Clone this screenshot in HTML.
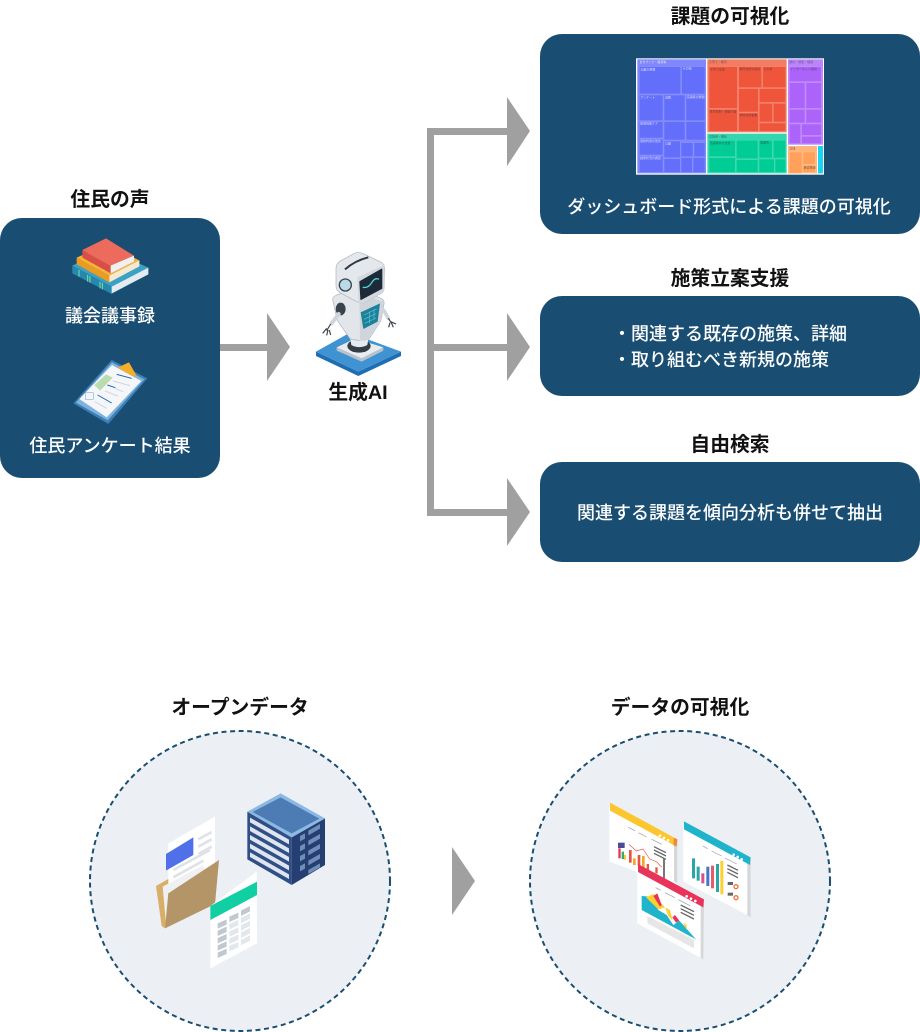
<!DOCTYPE html>
<html lang="ja"><head><meta charset="utf-8"><title>図</title>
<style>
html,body{margin:0;padding:0;background:#fff}
svg{display:block}
text{font-family:"Liberation Sans","Noto Sans CJK JP",sans-serif}
.t{font-size:19.8px;font-weight:700;fill:#111;text-anchor:middle}
.b{font-size:18px;font-weight:500;fill:#fff}
.m{text-anchor:middle}
.tm{font-size:9px;fill:#fff;opacity:.75}
.td{font-size:9px;fill:#333;opacity:.65}
</style></head><body>
<svg width="920" height="1032" viewBox="0 0 920 1032" xmlns="http://www.w3.org/2000/svg">
<g fill="#194e72">
<rect x="0" y="218" width="220" height="260" rx="22"/>
<rect x="540" y="34" width="380" height="200" rx="22"/>
<rect x="540" y="296" width="380" height="100" rx="22"/>
<rect x="540" y="462" width="380" height="100" rx="22"/>
</g>
<g fill="#a0a0a0">
<rect x="220" y="344" width="48" height="7"/>
<polygon points="267,313 290,347 267,381"/>
<rect x="427" y="128" width="7" height="388"/>
<rect x="427" y="128" width="81" height="7"/>
<rect x="427" y="344" width="81" height="7"/>
<rect x="427" y="509" width="81" height="7"/>
<polygon points="507,97 530,131 507,166"/>
<polygon points="507,313 530,347 507,381"/>
<polygon points="507,478 530,512 507,546"/>
<polygon points="452,847 475,881 452,915"/>
</g>
<g fill="#eceff3" stroke="#194e72" stroke-width="2" stroke-dasharray="5 3.6">
<circle cx="240" cy="881" r="150"/>
<circle cx="680" cy="881" r="150"/>
</g>

<text class="t" x="110" y="206">住民の声</text>
<text class="t" x="730" y="23">課題の可視化</text>
<text class="t" x="730" y="285">施策立案支援</text>
<text class="t" x="730" y="451">自由検索</text>
<text class="t" x="358" y="399">生成AI</text>
<text class="t" x="240" y="714">オープンデータ</text>
<text class="t" x="680" y="714">データの可視化</text>
<text class="b m" x="110" y="322">議会議事録</text>
<text class="b m" x="110" y="452">住民アンケート結果</text>
<text class="b m" x="729" y="213">ダッシュボード形式による課題の可視化</text>
<text class="b" x="613" y="340">・関連する既存の施策、詳細</text>
<text class="b" x="613" y="366">・取り組むべき新規の施策</text>
<text class="b m" x="730" y="519">関連する課題を傾向分析も併せて抽出</text>

<!-- treemap -->
<g transform="translate(620,50) scale(.33333)">
<rect x="48" y="25" width="564" height="349" fill="#fff"/>
<rect x="52" y="28" width="206" height="342" fill="#7f87fb"/>
<rect x="262" y="28" width="238" height="219" fill="#f47c63"/>
<rect x="262" y="251" width="238" height="119" fill="#33d6ae"/>
<rect x="504" y="28" width="105" height="256" fill="#bb84fb"/>
<rect x="504" y="288" width="87" height="82" fill="#ffb47c"/>
<rect x="594" y="288" width="15" height="82" fill="#19d3f3"/>
<g fill="#636efa" stroke="#8e95fb" stroke-width="1.5">
<rect x="58" y="50" width="124" height="82"/><rect x="185" y="50" width="70" height="82"/>
<rect x="58" y="135" width="71" height="77"/><rect x="132" y="135" width="63" height="77"/><rect x="198" y="135" width="57" height="77"/>
<rect x="58" y="215" width="71" height="49"/><rect x="132" y="215" width="63" height="55"/><rect x="198" y="215" width="57" height="55"/>
<rect x="58" y="267" width="71" height="48"/><rect x="132" y="273" width="49" height="50"/><rect x="183" y="278" width="36" height="42"/><rect x="222" y="278" width="33" height="42"/>
<rect x="58" y="318" width="71" height="49"/><rect x="132" y="326" width="49" height="41"/><rect x="183" y="323" width="34" height="44"/><rect x="219" y="323" width="36" height="44"/>
</g>
<g fill="#ef553b" stroke="#f58a75" stroke-width="1.5">
<rect x="267" y="50" width="85" height="125"/><rect x="267" y="178" width="85" height="66"/>
<rect x="356" y="50" width="69" height="63"/><rect x="428" y="50" width="69" height="63"/>
<rect x="356" y="116" width="59" height="70"/><rect x="418" y="116" width="79" height="41"/>
<rect x="356" y="189" width="59" height="55"/><rect x="418" y="160" width="39" height="56"/><rect x="460" y="160" width="37" height="56"/><rect x="418" y="219" width="79" height="25"/>
</g>
<g fill="#00cc96" stroke="#4cdcb6" stroke-width="1.5">
<rect x="267" y="271" width="79" height="49"/><rect x="267" y="323" width="79" height="44"/>
<rect x="349" y="271" width="65" height="55"/><rect x="349" y="329" width="65" height="38"/>
<rect x="417" y="271" width="40" height="53"/><rect x="460" y="271" width="37" height="53"/>
<rect x="417" y="327" width="46" height="40"/><rect x="465" y="327" width="32" height="40"/>
</g>
<g fill="#ab63fa" stroke="#c795fb" stroke-width="1.5">
<rect x="508" y="50" width="96" height="45"/><rect x="508" y="98" width="47" height="77"/><rect x="558" y="98" width="46" height="77"/>
<rect x="508" y="178" width="47" height="41"/><rect x="558" y="178" width="46" height="41"/>
<rect x="508" y="222" width="34" height="59"/><rect x="545" y="222" width="59" height="34"/><rect x="545" y="259" width="59" height="22"/>
</g>
<g fill="#ffa15a" stroke="#ffc08f" stroke-width="1.5">
<rect x="508" y="306" width="38" height="64"/><rect x="549" y="306" width="37" height="37"/><rect x="549" y="346" width="37" height="21"/>
</g>
<text class="tm" x="58" y="39">まちづくり・騒音等</text>
<text class="tm" x="61" y="61">公園の整備</text>
<text class="tm" x="188" y="59">その他</text>
<text class="tm" x="61" y="146">アンケート</text>
<text class="tm" x="135" y="146">道路</text>
<text class="tm" x="200" y="144">高齢者の移動</text>
<text class="tm" x="60" y="223">地域包括ケア</text>
<text class="tm" x="60" y="276">通勤利用の改善</text>
<text class="tm" x="135" y="284">公園</text>
<text class="tm" x="60" y="327">健康状況の調査</text>
<text class="td" x="267" y="39">子育て・教育</text>
<text class="td" x="270" y="61">子育て支援</text>
<text class="td" x="358" y="60">教育支援の検討</text>
<text class="td" x="430" y="60">その他</text>
<text class="td" x="269" y="187">教育体制・福祉内容</text>
<text class="td" x="358" y="198">学校支援事業</text>
<text class="td" x="267" y="263">高齢者・福祉</text>
<text class="td" x="269" y="282">高齢者向け支援</text>
<text class="td" x="420" y="281">事業所</text>
<text class="td" x="508" y="39">防災・防犯・環境</text>
<text class="td" x="510" y="60">インターネット環境</text>
<text class="td" x="508" y="299">交通</text>
<text class="td" x="551" y="356">鉄道路線</text>
</g>

<!-- books + clipboard -->
<g transform="translate(50,225) scale(.33333)">
<polygon points="67,122 67,145 185,207 295,148 295,128 185,185" fill="#2589ad"/>
<polygon points="67,122 170,72 295,128 185,185" fill="#3aa2c6"/>
<polygon points="185,185 295,128 295,148 185,205" fill="#e4eaee"/>
<g stroke="#7fe0a0" stroke-width="3" fill="none"><path d="M87 135v20M113 150v20M120 153v20M150 170v20M157 173v20"/></g>
<polygon points="80,98 80,118 178,172 268,124 268,106 178,152" fill="#eb9a22"/>
<polygon points="80,98 170,58 268,106 178,152" fill="#f7b334"/>
<polygon points="178,152 268,106 268,124 178,172" fill="#f4e9d3"/>
<polygon points="97,75 97,98 182,145 252,110 252,92 182,122" fill="#d84f47"/>
<polygon points="97,75 168,40 252,92 182,122" fill="#ec6b5d"/>
<polygon points="182,122 252,92 252,110 182,145" fill="#eef0f2"/>
<polygon points="70,535 185,405 292,460 175,597" fill="#3a7fb8"/>
<polygon points="78,533 186,412 283,463 173,586" fill="#7fb3de"/>
<polygon points="88,522 186,420 274,468 170,577" fill="#f4f6f9"/>
<polygon points="203,428 237,412 262,456 245,452" fill="#f4ae2c"/>
<polygon points="133,480 168,448 188,458 150,497" fill="#b9dcae"/>
<g stroke="#1c6aa8" stroke-width="3" fill="none"><path d="M200 448l45 12M172 480l24 8M143 510l42 24"/></g>
<g stroke="#cfd6dc" stroke-width="3" fill="none"><path d="M190 468l50 14M165 498l40 16M135 530l35 20M195 490l24 10"/></g>
<rect x="106" y="503" width="24" height="20" fill="none" stroke="#8db6d6" stroke-width="2"/>
</g>

<!-- robot -->
<g transform="translate(300,240) scale(.33333)">
<polygon points="48,335 48,348 175,408 303,348 303,335 175,395" fill="#1f6db2"/>
<polygon points="48,335 150,278 303,335 175,395" fill="#3f93d2"/>
<polygon points="110,322 110,332 185,365 250,332 250,322 185,355" fill="#b9c2cb"/>
<polygon points="110,322 165,296 250,322 185,355" fill="#e8ecef"/>
<ellipse cx="177" cy="324" rx="37" ry="22" fill="#e9edf0"/>
<ellipse cx="177" cy="318" rx="35" ry="20" fill="#343c45"/>
<path d="M148 280H208L202 315Q177 328 154 315Z" fill="#e6eaee"/>
<path d="M98 178Q98 170 110 165L165 148Q175 146 185 150L245 176Q254 182 252 192L243 242 208 296Q180 306 150 296L112 242Z" fill="#e2e6ea" stroke="#aab2ba" stroke-width="2"/>
<path d="M178 158L252 186 243 242 208 296Q195 302 180 302Z" fill="#cfd5db"/>
<polygon points="182,217 240,190 233,245 190,267" fill="#1f8099"/>
<g stroke="#5dc6d8" stroke-width="2" fill="none"><path d="M192 225l38-18M192 238l36-17M194 250l34-16M208 215v35M222 208v30"/></g>
<ellipse cx="122" cy="207" rx="15" ry="19" fill="#3a424b"/>
<path d="M116 222L95 250" stroke="#cfd5da" stroke-width="12" stroke-linecap="round"/>
<path d="M92 252L80 272M80 265L68 280M84 270L80 286M88 270L92 285" stroke="#39424c" stroke-width="3.5" fill="none"/>
<path d="M252 212L265 235" stroke="#cfd5da" stroke-width="11" stroke-linecap="round"/>
<path d="M265 235L275 250M272 245L288 252M274 248L280 262M270 248L266 262" stroke="#39424c" stroke-width="3.5" fill="none"/>
<path d="M108 85Q108 70 123 62L163 40Q175 35 190 41L240 65Q254 72 254 85L252 145Q252 156 240 162L196 187Q185 192 172 186L120 158Q108 150 108 138Z" fill="#e4e8ec" stroke="#aab2ba" stroke-width="2"/>
<path d="M172 112L254 74 252 145Q252 156 240 162L196 187Q185 192 175 188Z" fill="#d3d9df"/>
<path d="M135 88Q165 62 205 52" stroke="#2f363e" stroke-width="6" fill="none"/>
<path d="M180 125L245 88V145L183 178Z" fill="#1d2b39" stroke="#1d2b39" stroke-width="4" stroke-linejoin="round"/>
<path d="M188 142Q205 145 215 128T237 118" stroke="#4fd5de" stroke-width="4" fill="none"/>
<circle cx="136" cy="135" r="18" fill="#b9dbe6" stroke="#39424c" stroke-width="4"/>
</g>

<!-- folder / server / table -->
<g transform="translate(140,780) scale(.33333)">
<polygon points="322,95 455,172 455,315 322,238" fill="#2f4f86"/>
<polygon points="455,172 555,115 555,255 455,315" fill="#263f73"/>
<polygon points="322,95 422,40 555,115 455,172" fill="#8cb9e4"/>
<polygon points="338,96 422,52 538,116 455,160" fill="#4d7bb3"/>
<g fill="#dfe5ee">
<polygon points="330,113 447,179 447,193 330,127"/>
<polygon points="330,139 447,205 447,219 330,153"/>
<polygon points="330,165 447,231 447,245 330,179"/>
<polygon points="330,191 447,257 447,271 330,205"/>
<polygon points="330,217 447,283 447,297 330,231"/>
</g>
<g fill="#6f8fb8">
<polygon points="505,152 540,132 540,146 505,166"/>
<polygon points="505,182 540,162 540,176 505,196"/>
<polygon points="505,212 540,192 540,206 505,226"/>
<polygon points="505,242 540,222 540,236 505,256"/>
<polygon points="505,270 540,250 540,262 505,282"/>
</g>
<g fill="#6f8fb8">
<polygon points="480,168 495,160 495,176 480,184"/>
<polygon points="480,198 495,190 495,206 480,214"/>
<polygon points="480,228 495,220 495,236 480,244"/>
<polygon points="480,258 495,250 495,266 480,274"/>
</g>
<polygon points="48,318 88,295 92,330 75,445 65,438" fill="#d9ae69"/>
<polygon points="85,190 225,110 225,250 85,330" fill="#fff"/>
<polygon points="78,222 160,172 160,225 78,272" fill="#4f70e8"/>
<g stroke="#dfe3e7" stroke-width="8"><path d="M175 178l40-22M175 200l40-22M175 222l40-22M100 270l110-60M100 292l90-50"/></g>
<polygon points="68,320 190,255 195,272 85,340 78,432" fill="#eef0f2"/>
<polygon points="85,340 237,240 225,372 75,445" fill="#b39568"/>
<polygon points="211,378 350,275 351,490 211,565" fill="#fff"/>
<polygon points="211,378 351,305 351,345 211,420" fill="#0fcfa3"/>
<g fill="#bfc9cf">
<polygon points="233,430 260,418 260,434 233,446"/>
<polygon points="233,452 260,440 260,456 233,468"/>
<polygon points="233,474 260,462 260,478 233,490"/>
<polygon points="233,496 260,484 260,500 233,512"/>
<polygon points="233,518 260,506 260,522 233,534"/>
<polygon points="268,410 295,398 295,414 268,426"/>
<polygon points="303,392 330,378 330,394 303,408"/>
</g>
<g fill="#e1e7eb">
<polygon points="268,432 295,420 295,436 268,448"/>
<polygon points="268,454 295,442 295,458 268,470"/>
<polygon points="268,476 295,464 295,480 268,492"/>
<polygon points="268,498 295,486 295,502 268,514"/>
<polygon points="303,414 330,400 330,416 303,430"/>
<polygon points="303,436 330,422 330,438 303,452"/>
<polygon points="303,458 330,444 330,460 303,474"/>
<polygon points="303,480 330,466 330,482 303,496"/>
</g>
</g>

<!-- dashboards -->
<g transform="translate(590,790) scale(.33333)">
<polygon points="58,50 262,155 262,290 58,215" fill="#fff"/>
<polygon points="252,160 262,155 262,280 252,275" fill="#d5d7d9"/>
<polygon points="60,38 262,148 260,170 60,62" fill="#fdc52e"/>
<polygon points="252,143 262,148 260,170 250,165" fill="#f0883a"/>
<g fill="#fff"><circle cx="210" cy="137" r="4"/><circle cx="222" cy="144" r="4"/><circle cx="234" cy="151" r="4"/></g>
<g stroke="#666" stroke-width="4"><path d="M192 170l36 18M192 180l36 18M192 190l36 18"/></g>
<g stroke="#999" stroke-width="2"><path d="M115 112l20 10M145 128l25 13M185 148l30 15"/></g>
<rect x="84" y="158" width="20" height="16" fill="#4a4a9a"/>
<rect x="85" y="175" width="7" height="30" fill="#e8335a"/><rect x="95" y="185" width="7" height="22" fill="#27b36a"/><rect x="102" y="195" width="6" height="14" fill="#fdc52e"/>
<rect x="117" y="180" width="8" height="38" fill="#e8543f"/><rect x="129" y="205" width="8" height="20" fill="#f5a623"/><rect x="143" y="195" width="8" height="32" fill="#e8543f"/><rect x="156" y="198" width="8" height="35" fill="#f5a623"/>
<rect x="170" y="222" width="7" height="20" fill="#e8543f"/><rect x="196" y="232" width="7" height="18" fill="#e8543f"/><rect x="219" y="205" width="6" height="60" fill="#777"/>
<path d="M117 163l22 20 20-6 20 30 20 8 16 16" stroke="#e8543f" stroke-width="2" fill="none"/>
<polygon points="280,103 482,208 482,380 280,275" fill="#fff"/>
<polygon points="472,215 482,208 482,382 472,376" fill="#d5d7d9"/>
<polygon points="282,94 482,202 480,225 282,118" fill="#1fb3cc"/>
<g fill="#fff"><circle cx="431" cy="194" r="4"/><circle cx="443" cy="201" r="4"/><circle cx="455" cy="208" r="4"/></g>
<g stroke="#999" stroke-width="2"><path d="M338 168l15 8M365 183l30 15M405 204l35 18"/></g>
<g stroke="#666" stroke-width="4"><path d="M412 225l32 16M412 236l32 16M412 247l32 16"/></g>
<rect x="306" y="205" width="9" height="60" fill="#2ba6a6"/><rect x="320" y="230" width="9" height="42" fill="#2ba6a6"/><rect x="334" y="250" width="9" height="30" fill="#d9508a"/><rect x="349" y="230" width="9" height="58" fill="#3f78d0"/><rect x="363" y="227" width="9" height="68" fill="#e85a6a"/><rect x="378" y="222" width="9" height="84" fill="#2ba6a6"/><rect x="391" y="213" width="9" height="100" fill="#fdd02e"/>
<circle cx="438" cy="290" r="6" fill="none" stroke="#e8763a" stroke-width="4"/><circle cx="438" cy="323" r="6" fill="none" stroke="#e8763a" stroke-width="4"/>
<rect x="413" y="276" width="16" height="9" fill="#666"/><rect x="413" y="308" width="16" height="9" fill="#666"/>
<polygon points="142,232 342,340 340,508 142,400" fill="#fff"/>
<polygon points="332,345 342,340 340,508 332,504" fill="#d5d7d9"/>
<polygon points="144,222 342,328 340,352 144,246" fill="#e8335a"/>
<g fill="#fff"><circle cx="290" cy="319" r="4"/><circle cx="303" cy="326" r="4"/><circle cx="316" cy="333" r="4"/></g>
<g stroke="#666" stroke-width="4"><path d="M272 345l40 20M272 356l40 20M272 367l40 20"/></g>
<g stroke="#999" stroke-width="2"><path d="M197 293l15 8M225 308l30 15M265 329l35 18"/></g>
<polygon points="155,318 155,360 318,448 268,392 250,405 230,375 205,360 178,320" fill="#1fb3cc"/>
<polygon points="168,322 190,312 225,352 205,358" fill="#fdd02e"/>
<polygon points="190,318 202,310 215,345 210,350" fill="#e8335a"/>
<polygon points="225,352 240,360 248,392 235,378" fill="#fdd02e"/>
<polygon points="247,382 255,375 268,392 258,398" fill="#e8335a"/>
<polygon points="278,398 290,405 290,420" fill="#fdd02e"/>
<polygon points="172,378 312,450 312,475 172,400" fill="#e6e6e6"/>
</g>
</svg>
</body></html>
